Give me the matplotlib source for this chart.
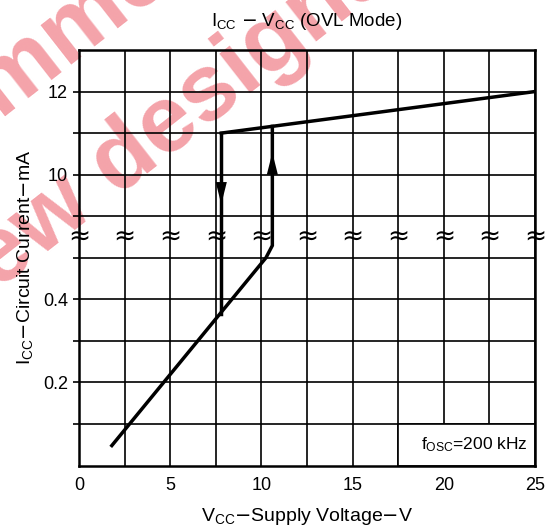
import numpy as np
import matplotlib
matplotlib.use("Agg")
import matplotlib.pyplot as plt
from matplotlib.patches import Rectangle

# data
rise_v = [1.8, 10.25, 10.6, 10.6]
rise_i = [0.048, 0.5, 3.0, 11.16]
top_v = [7.8, 25.0]
top_i = [11.0, 12.0]
fall_v = [7.8, 7.8]
fall_i = [11.0, 0.365]

xticks = [0, 5, 10, 15, 20, 25]
xminor = [2.5, 7.5, 12.5, 17.5, 22.5]
yticks = [0.2, 0.4, 10, 12]
yminor = [0.1, 0.3, 0.5, 9, 11]
ytick_labels = ["0.2", "0.4", "10", "12"]


def fwd(y):
    y = np.asarray(y, dtype=float)
    return np.where(y <= 0.5, y * 10, np.where(y >= 9, y - 3, 5 + (y - 0.5) / 8.5))


def inv(u):
    u = np.asarray(u, dtype=float)
    return np.where(u <= 5, u / 10, np.where(u >= 6, u + 3, 0.5 + (u - 5) * 8.5))


plt.rcParams['font.family'] = ['Liberation Sans', 'DejaVu Sans']

fig = plt.figure(figsize=(5.52, 5.29), dpi=100)
ax = fig.add_axes([79 / 552, 63.5 / 529, 456 / 552, 415.5 / 529])
ax.set_facecolor('none')

# watermark behind the chart
wm = dict(fontsize=68, fontweight='bold', color='#f4a3aa', rotation=38,
          rotation_mode='anchor', ha='left', va='baseline', zorder=-1)
fig.text(-302 / 552, 1 - 356 / 529, "Not recommended", **wm)
fig.text(-168 / 552, 1 - 420 / 529, "for new designs", **wm)

ax.set_yscale('function', functions=(fwd, inv))
ax.set_xlim(0, 25)
ax.set_ylim(0, 13)

ax.set_xticks(xticks)
ax.set_xticks(xminor, minor=True)
ax.set_yticks(yticks)
ax.set_yticklabels(ytick_labels)
ax.set_yticks(yminor, minor=True)
ax.tick_params(axis='x', which='both', length=0, labelsize=13, pad=8)
ax.tick_params(axis='y', which='both', length=4, width=1.2, direction='out', labelsize=13, pad=4)
ax.grid(True, which='both', color='black', lw=1.2)

for s in ax.spines.values():
    s.set_linewidth(1.8)

# fosc box covers bottom right cell
ax.add_patch(Rectangle((17.5, 0), 7.5, 0.1, facecolor='white', edgecolor='black', lw=1.2, zorder=2))
ax.text(24.6, 0.05, r"$\mathregular{f_{OSC}}$=200 kHz", ha='right', va='center', fontsize=12.5, zorder=3)

ax.plot(rise_v, rise_i, color='black', lw=2.5, zorder=4, solid_joinstyle='miter')
ax.plot(top_v, top_i, color='black', lw=2.5, zorder=4)
ax.plot(fall_v, fall_i, color='black', lw=2.5, zorder=4)

arr = dict(arrowstyle='-|>,head_length=0.8,head_width=0.2', color='black', lw=0, mutation_scale=20)
ax.annotate('', xy=(7.8, 9.22), xytext=(7.8, 9.8), arrowprops=arr, zorder=5)
ax.annotate('', xy=(10.6, 10.6), xytext=(10.6, 10.05), arrowprops=arr, zorder=5)

# break symbols across the gap
for xb in np.arange(0, 25.1, 2.5):
    ax.text(xb, 4.75, "\u2248", ha='center', va='center', fontsize=19,
            family='DejaVu Sans', zorder=6, clip_on=False)

ax.set_title(r"$\mathregular{I_{CC}}$ $-$ $\mathregular{V_{CC}}$ (OVL Mode)", fontsize=13.5, pad=17)
ax.set_xlabel(r"$\mathregular{V_{CC}}$$-$Supply Voltage$-$V", fontsize=14, labelpad=9)
ax.set_ylabel(r"$\mathregular{I_{CC}}$$-$Circuit Current$-$mA", fontsize=14, labelpad=6)

fig.savefig("out.png", dpi=100)
